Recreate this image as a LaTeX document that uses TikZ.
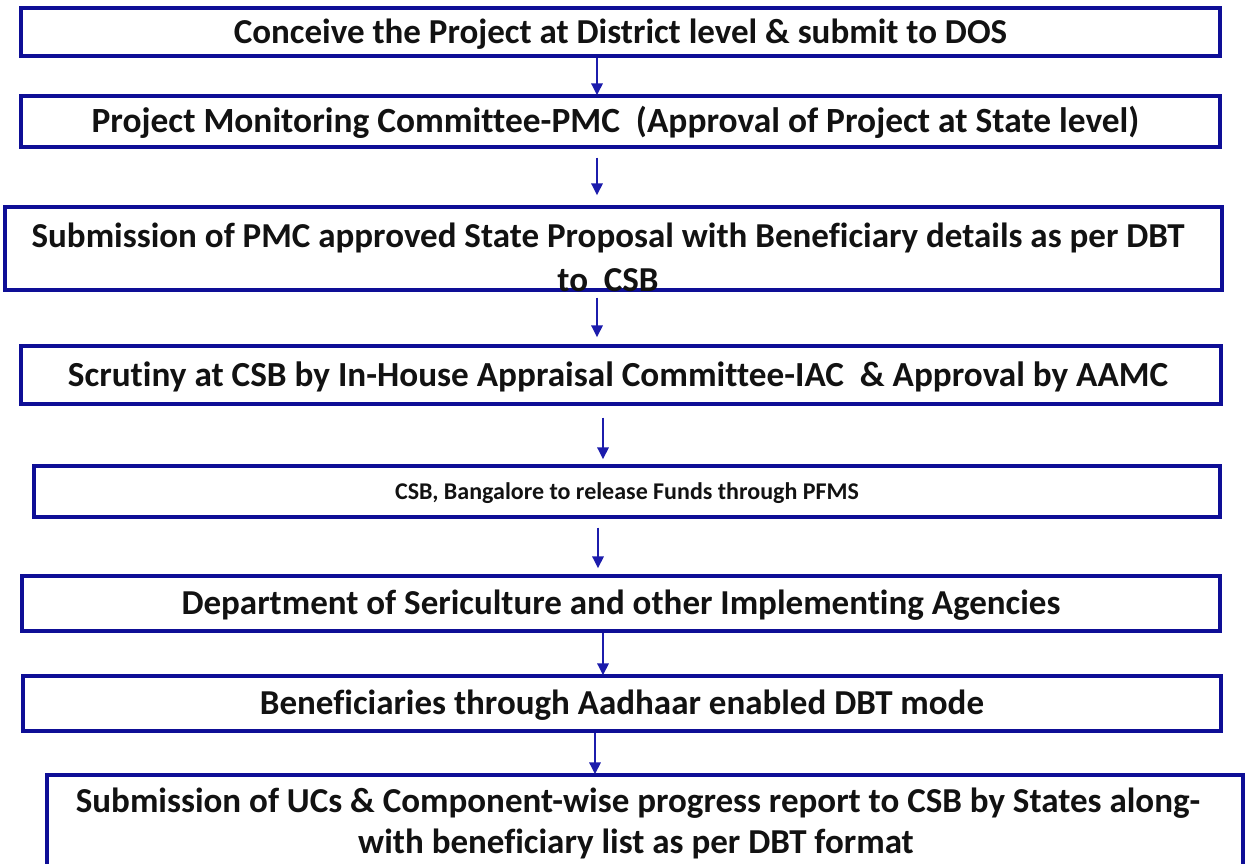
\documentclass[tikz,border=0pt]{standalone}
\usepackage{fontspec}
\setmainfont{Carlito}[Ligatures=NoCommon]
\usetikzlibrary{arrows.meta}
\definecolor{boxblue}{RGB}{14,14,150}
\definecolor{arrowblue}{RGB}{28,28,172}
\definecolor{ink}{RGB}{18,18,18}
\newcommand{\stepfont}[1]{\bfseries\fontsize{#1}{#1}\selectfont}
\tikzset{
  stepbox/.style={draw=boxblue, line width=3.2pt, fill=white, inner sep=0pt,
    text=ink, font=\stepfont{35}, align=center,
    text height=22.5pt, text depth=0pt},
  steptext/.style={inner sep=0pt, text=ink, align=center},
  flow/.style={draw=arrowblue, line width=2.8pt,
    -{Triangle[length=12pt,width=11pt]}, shorten >=-1pt}
}
\begin{document}
\begin{tikzpicture}[x=1pt,y=-1pt]
\useasboundingbox[fill=white] (0,0) rectangle (1246,863);

% process steps
\node[stepbox, minimum width=1199pt, minimum height=48pt] (b1) at (620.5,32)
  {Conceive the Project at District level \& submit to DOS};
\node[stepbox, minimum width=1199pt, minimum height=51pt, font=\stepfont{35.4}] (b2) at (620.5,121.5)
  {Project Monitoring Committee-PMC\ \ (Approval of Project at State level)\kern10pt};
\node[stepbox, minimum width=1217pt, minimum height=83pt] (b3) at (613.5,248.5) {};
\node[steptext, font=\bfseries\fontsize{35}{44}\selectfont, anchor=base] (b3t) at (608,291)
  {Submission of PMC approved State Proposal with Beneficiary details as per DBT\\to\ \ CSB};
\node[stepbox, minimum width=1200pt, minimum height=58pt, font=\stepfont{35.2}] (b4) at (621,375)
  {Scrutiny at CSB by In-House Appraisal Committee-IAC\ \ \& Approval by AAMC\kern6pt};
\node[stepbox, minimum width=1186pt, minimum height=51pt,
  font=\stepfont{24}, text height=15.5pt] (b5) at (627,491.5)
  {CSB, Bangalore to release Funds through PFMS};
\node[stepbox, minimum width=1198pt, minimum height=55pt] (b6) at (621,603.5)
  {Department of Sericulture and other Implementing Agencies};
\node[stepbox, minimum width=1198pt, minimum height=55pt] (b7) at (622,703.5)
  {Beneficiaries through Aadhaar enabled DBT mode};
\node[stepbox, minimum width=1196pt, minimum height=96pt,
  font=\bfseries\fontsize{35}{41}\selectfont, text height=, text depth=] (b8) at (645,823)
  {Submission of UCs \& Component-wise progress report to CSB by States along-\kern14pt\\with beneficiary list as per DBT format\kern18pt};

% connectors
\draw[flow] (b1.south -| 597,0) -- (b2.north -| 597,0);
\draw[flow] ([yshift=-9pt]b2.south -| 597,0) -- ([yshift=11pt]b3.north -| 597,0);
\draw[flow] ([yshift=-6pt]b3.south -| 597,0) -- ([yshift=8pt]b4.north -| 597,0);
\draw[flow] ([yshift=-12pt]b4.south -| 603,0) -- ([yshift=6pt]b5.north -| 603,0);
\draw[flow] ([yshift=-9pt]b5.south -| 598,0) -- ([yshift=7pt]b6.north -| 598,0);
\draw[flow] (b6.south -| 603,0) -- (b7.north -| 603,0);
\draw[flow] (b7.south -| 595,0) -- (b8.north -| 595,0);
\end{tikzpicture}
\end{document}
